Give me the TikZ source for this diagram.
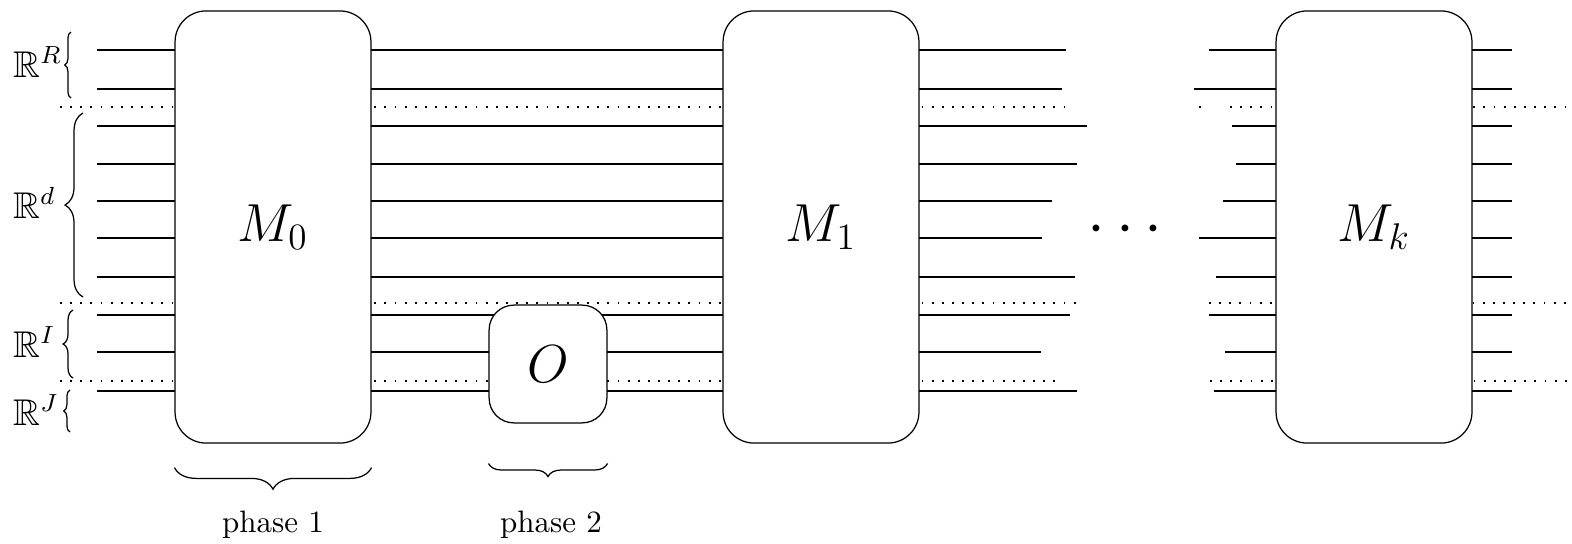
\documentclass[tikz,border=0pt]{standalone}
\usepackage{amssymb}
\usetikzlibrary{decorations.pathreplacing}

\begin{document}
\begin{tikzpicture}[
    x=0.3226pt, y=-0.3226pt,
    sep/.style={dash pattern=on 0.6pt off 2.67pt},
    blk/.style={draw, fill=white, rounded corners=10pt, minimum width=63.2pt, minimum height=139.4pt, font=\LARGE},
    orc/.style={draw, fill=white, rounded corners=8pt, minimum width=38pt, minimum height=38pt, font=\LARGE},
    lbl/.style={anchor=base west, inner sep=0pt, font=\large},
    br/.style={decorate, decoration={brace, amplitude=#1}},
    phs/.style={anchor=base, inner sep=0pt},
]
    \useasboundingbox (0,0) rectangle (1572,543);

    % wires up to M_1
    \foreach \y in {50,89,126,164,201,238,277,315,352,391}
        \draw (97,\y) -- (723,\y);

    % wires after M_1, fading out, and into M_k
    \foreach \y/\a/\b in {50/1066/1209, 89/1062/1194, 126/1087/1232, 164/1077/1236, 201/1052/1223,
                          238/1042/1199, 277/1075/1216, 315/1070/1209, 352/1041/1225, 391/1077/1214} {
        \draw (919,\y) -- (\a,\y);
        \draw (\b,\y) -- (1512,\y);
    }

    % separators between the groups
    \foreach \y/\a/\b in {107/1068/1230, 303/1078/1209, 381/1060/1210} {
        \draw[sep] (60,\y) -- (\a,\y);
        \draw[sep] (\b,\y) -- (1572,\y);
    }
    \draw[sep] (1199,107) -- (1201,107);

    % blocks
    \node[blk] (m0) at (273,227) {$M_0$};
    \node[blk] (m1) at (821,227) {$M_1$};
    \node[blk] (mk) at (1374,227) {$M_k$};
    \node[orc] (orc) at (548,364) {$O$};
    \node[font=\huge, anchor=base] (dots) at (1125,244) {$\cdots$};

    % spaces on the left
    \node[lbl] (rr) at (13,77) {$\mathbb{R}^R$};
    \node[lbl] (rd) at (13,218) {$\mathbb{R}^d$};
    \node[lbl] (ri) at (13,357) {$\mathbb{R}^I$};
    \node[lbl] (rj) at (13,425) {$\mathbb{R}^J$};
    \draw[br=2pt] (71,98) -- (71,32);
    \draw[br=5.8pt] (83,297) -- (83,113);
    \draw[br=3.2pt] (73,378) -- (73,310);
    \draw[br=2pt] (70,432) -- (70,390);

    % phases
    \draw[br=7pt] ([yshift=-7.7pt]m0.south east) -- ([yshift=-7.7pt]m0.south west);
    \draw[br=4.2pt] ([yshift=-12.9pt]orc.south east) -- ([yshift=-12.9pt]orc.south west);
    \node[phs] (ph1) at (273,532) {phase 1};
    \node[phs] (ph2) at (551,532) {phase 2};
\end{tikzpicture}
\end{document}
